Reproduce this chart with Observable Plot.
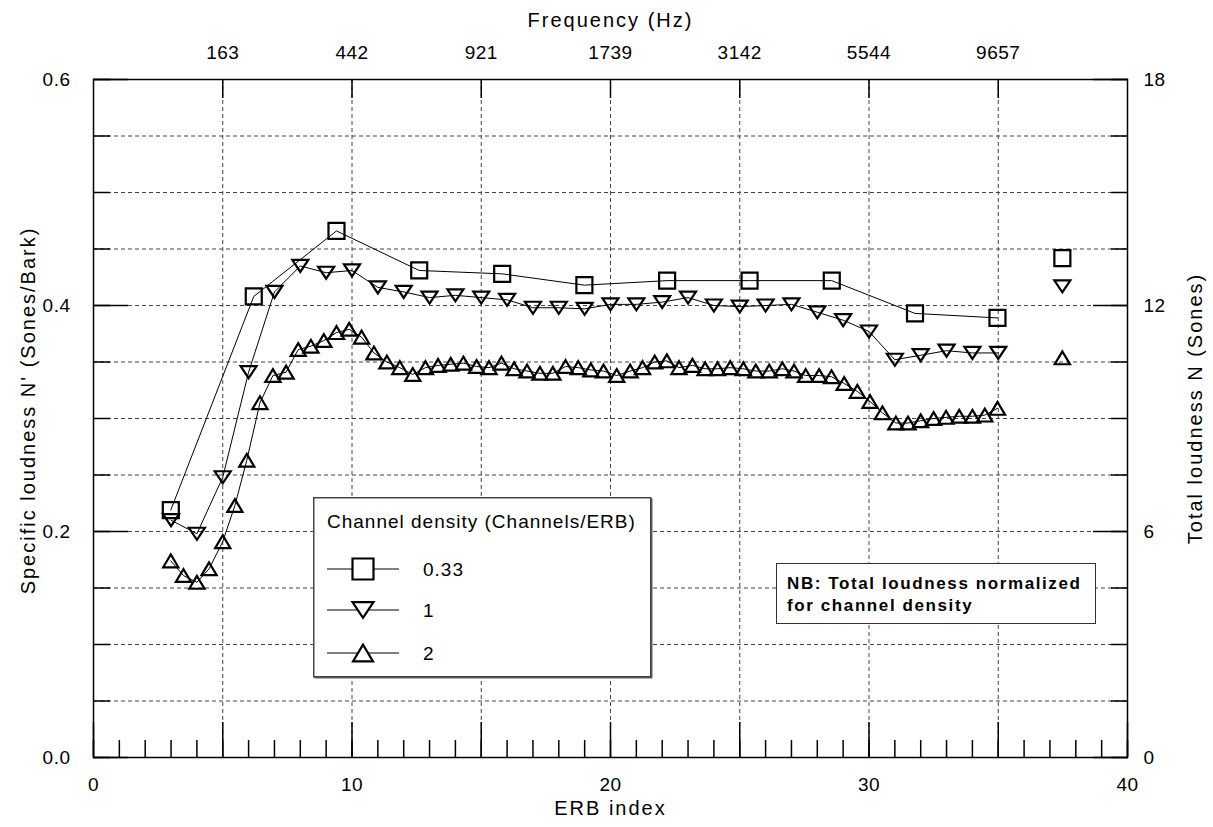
<!DOCTYPE html>
<html>
<head>
<meta charset="utf-8">
<script src="https://cdn.jsdelivr.net/npm/d3@7"></script>
<script src="https://cdn.jsdelivr.net/npm/@observablehq/plot@0.6"></script>
<style>
  body { margin: 0; background: #fff; }
  #wrap { position: relative; width: 1213px; height: 827px; font-family: "Liberation Sans", Arial, Helvetica, sans-serif; }
  #wrap svg text { font-family: "Liberation Sans", Arial, Helvetica, sans-serif; }
  #nb { position: absolute; left: 776px; top: 563px; width: 320px; height: 61px; box-sizing: border-box;
        border: 1.5px solid #333; background: #fff; font-weight: bold; font-size: 17px; letter-spacing: 1.6px;
        line-height: 22px; padding: 9px 0 0 10px; color: #000; }
</style>
</head>
<body>
<div id="wrap"></div>
<script>
// ---------------- data ----------------
const densities = ["0.33", "1", "2"];

// 0.33 channels/ERB (squares)
const erb033 = [2.99, 6.20, 9.40, 12.60, 15.81, 18.99, 22.19, 25.38, 28.56, 31.78, 34.97];
const val033 = [0.219, 0.408, 0.466, 0.431, 0.428, 0.418, 0.422, 0.422, 0.422, 0.393, 0.389];

// 1 channel/ERB (down triangles)
const erb1 = [3, 4, 5, 6, 7, 8, 9, 10, 11, 12, 13, 14, 15, 16, 17, 18, 19, 20, 21, 22, 23, 24, 25, 26, 27, 28, 29, 30, 31, 32, 33, 34, 35];
const val1 = [0.210, 0.198, 0.248, 0.341, 0.412, 0.435, 0.429, 0.431, 0.416, 0.412, 0.407, 0.409, 0.407, 0.405, 0.398, 0.398, 0.397,
              0.401, 0.401, 0.403, 0.407, 0.400, 0.399, 0.400, 0.401, 0.394, 0.387, 0.377, 0.352, 0.356, 0.360, 0.358, 0.358];

// 2 channels/ERB (up triangles)
const erb2 = [2.99, 3.48, 4.00, 4.47, 5.00, 5.47, 5.93, 6.44, 6.94, 7.45,
              7.92, 8.41, 8.91, 9.40, 9.89, 10.37, 10.85, 11.35, 11.85, 12.35,
              12.84, 13.33, 13.82, 14.31, 14.82, 15.30, 15.78, 16.27, 16.77, 17.27,
              17.77, 18.26, 18.75, 19.24, 19.73, 20.24, 20.76, 21.24, 21.71, 22.18,
              22.65, 23.17, 23.66, 24.14, 24.63, 25.14, 25.62, 26.14, 26.65, 27.10,
              27.55, 28.07, 28.55, 29.04, 29.55, 30.04, 30.52, 31.04, 31.51, 32.00,
              32.50, 32.98, 33.49, 34.00, 34.48, 34.97];
const val2 = [0.174, 0.161, 0.155, 0.167, 0.191, 0.223, 0.263, 0.314, 0.338, 0.341,
              0.361, 0.364, 0.369, 0.376, 0.379, 0.372, 0.358, 0.350, 0.345, 0.339,
              0.345, 0.347, 0.348, 0.349, 0.346, 0.345, 0.349, 0.344, 0.342, 0.340,
              0.340, 0.346, 0.345, 0.343, 0.342, 0.338, 0.342, 0.345, 0.350, 0.351,
              0.345, 0.347, 0.344, 0.344, 0.345, 0.344, 0.342, 0.342, 0.344, 0.342,
              0.338, 0.338, 0.337, 0.331, 0.324, 0.315, 0.305, 0.296, 0.296, 0.298,
              0.300, 0.301, 0.302, 0.302, 0.303, 0.309];

// Total loudness (Sones, right axis), plotted at the right of the data
const totalErb = [37.48, 37.48, 37.48];
const totalLoudness = [13.26, 12.51, 10.61];

// axis ticks / labels
const erbTicks = [0, 10, 20, 30, 40];
const freqTicks = [5, 10, 15, 20, 25, 30, 35];
const freqLabels = ["163", "442", "921", "1739", "3142", "5544", "9657"];
const specTicks = [0, 0.2, 0.4, 0.6];
const specLabels = ["0.0", "0.2", "0.4", "0.6"];
const totalLabels = ["0", "6", "12", "18"];
const sonesPerUnit = 18 / 0.6; // right axis maps 0.6 -> 18 Sones

const titleTop = "Frequency (Hz)";
const titleBottom = "ERB index";
const titleLeft = "Specific loudness N' (Sones/Bark)";
const titleRight = "Total loudness N (Sones)";

// ---------------- symbols ----------------
function makeSymbol(fn) { return { draw(ctx, size) { fn(ctx, Math.sqrt(size / Math.PI)); } }; }
const squareSym = makeSymbol((c, r) => { c.moveTo(-r, -r); c.lineTo(r, -r); c.lineTo(r, r); c.lineTo(-r, r); c.closePath(); });
const downSym = makeSymbol((c, r) => { const w = r * 1.0, h = r * 0.75; c.moveTo(-w, -h); c.lineTo(w, -h); c.lineTo(0, h); c.closePath(); });
const upSym = makeSymbol((c, r) => { const w = r * 0.95, h = r * 0.8; c.moveTo(-w, h); c.lineTo(w, h); c.lineTo(0, -h); c.closePath(); });
const symbols = { "0.33": squareSym, "1": downSym, "2": upSym };

const seriesRows = [
  ...erb033.map((x, i) => ({ density: "0.33", erb: x, n: val033[i] })),
  ...erb1.map((x, i) => ({ density: "1", erb: x, n: val1[i] })),
  ...erb2.map((x, i) => ({ density: "2", erb: x, n: val2[i] }))
];
const totalRows = densities.map((d, i) => ({ density: d, erb: totalErb[i], n: totalLoudness[i] / sonesPerUnit }));

const minorY = d3.ticks(0, 0.6, 12);
const gridYVals = minorY.filter(v => v > 0.001 && v < 0.599);
const minorX = d3.range(0, 41);
const fiveX = d3.range(0, 41, 5);

const gridStyle = { stroke: "#444", strokeOpacity: 1, strokeWidth: 1, strokeDasharray: "4,3" };

const marks = [
  Plot.gridX(freqTicks, gridStyle),
  Plot.gridY(gridYVals, gridStyle),
  Plot.line(seriesRows, { x: "erb", y: "n", z: "density", stroke: "#000", strokeWidth: 1 }),
  ...densities.map(d => Plot.dot([...seriesRows, ...totalRows].filter(r => r.density === d),
      { x: "erb", y: "n", symbol: () => symbols[d], r: 8, stroke: "#000", strokeWidth: 2.2, fill: "none" })),
  // frame
  Plot.frame({ stroke: "#000", strokeWidth: 1.5 }),
  // bottom ticks (inward)
  Plot.axisX(minorX, { anchor: "bottom", tickSize: -17, tickFormat: () => "", label: null, strokeWidth: 1.5 }),
  Plot.axisX(fiveX, { anchor: "bottom", tickSize: -35, tickFormat: () => "", label: null, strokeWidth: 1.5 }),
  Plot.axisX(erbTicks, { anchor: "bottom", tickSize: 0, tickPadding: 20, tickFormat: d => String(d), label: null, fontSize: 19 }),
  // top axis
  Plot.axisX(freqTicks, { anchor: "top", tickSize: -18, tickFormat: () => "", label: null, strokeWidth: 1.5 }),
  Plot.axisX(freqTicks, { anchor: "top", tickSize: 0, tickPadding: 21, tickFormat: d => freqLabels[freqTicks.indexOf(d)], label: null, fontSize: 19 }),
  // left axis
  Plot.axisY(minorY, { anchor: "left", tickSize: -17, tickFormat: () => "", label: null, strokeWidth: 1.5 }),
  Plot.axisY(specTicks, { anchor: "left", tickSize: -35, tickFormat: () => "", label: null, strokeWidth: 1.5 }),
  Plot.axisY(specTicks, { anchor: "left", tickSize: 0, tickPadding: 23, tickFormat: d => specLabels[specTicks.indexOf(d)], label: null, fontSize: 19 }),
  // right axis
  Plot.axisY(minorY, { anchor: "right", tickSize: -17, tickFormat: () => "", label: null, strokeWidth: 1.5 }),
  Plot.axisY(specTicks, { anchor: "right", tickSize: -35, tickFormat: () => "", label: null, strokeWidth: 1.5 }),
  Plot.axisY(specTicks, { anchor: "right", tickSize: 0, tickPadding: 16, tickFormat: d => totalLabels[specTicks.indexOf(d)], label: null, fontSize: 19 }),
  // axis titles
  Plot.text([titleTop], { text: d => d, frameAnchor: "top", lineAnchor: "middle", textAnchor: "middle", dy: -59, fontSize: 20 }),
  Plot.text([titleBottom], { text: d => d, frameAnchor: "bottom", lineAnchor: "middle", textAnchor: "middle", dy: 51, fontSize: 20 }),
  Plot.text([titleLeft], { text: d => d, frameAnchor: "left", lineAnchor: "middle", textAnchor: "middle", dx: -65, dy: -8, rotate: -90, fontSize: 20 }),
  Plot.text([titleRight], { text: d => d, frameAnchor: "right", lineAnchor: "middle", textAnchor: "middle", dx: 68, dy: -10, rotate: -90, fontSize: 20 })
];

const chart = Plot.plot({
  width: 1213,
  height: 827,
  marginTop: 79,
  marginBottom: 70,
  marginLeft: 93,
  marginRight: 86,
  x: { domain: [0, 40] },
  y: { domain: [0, 0.6] },
  style: { background: "#fff", color: "#000", fontFamily: "Liberation Sans, Arial, Helvetica, sans-serif", fontSize: "19px", letterSpacing: "0.5px" },
  marks
});
const wrap = document.getElementById("wrap");
wrap.appendChild(chart);
const titles = [titleTop, titleBottom, titleLeft, titleRight];
d3.select(chart).selectAll("text").filter(function () { return titles.includes(this.textContent); })
  .style("letter-spacing", "2px");

// ---------------- legend (overlay) ----------------
const L = { left: 313, top: 497, width: 338, height: 180 };
const legend = d3.select(wrap).append("svg")
  .attr("width", L.width + 4).attr("height", L.height + 4)
  .style("position", "absolute").style("left", L.left + "px").style("top", L.top + "px")
  .style("font-family", "Liberation Sans, Arial, Helvetica, sans-serif");
legend.append("rect").attr("x", 1.5).attr("y", 1.5).attr("width", L.width).attr("height", L.height).attr("fill", "#666");
legend.append("rect").attr("x", 0.75).attr("y", 0.75).attr("width", L.width - 1).attr("height", L.height - 1)
  .attr("fill", "#fff").attr("stroke", "#444").attr("stroke-width", 1.5);
legend.append("text").attr("x", 14).attr("y", 31).attr("font-size", 19).style("letter-spacing", "1px")
  .text("Channel density (Channels/ERB)");
const rowY = [72, 113, 156];
const legendSize = 10.5;
densities.forEach((d, i) => {
  const g = legend.append("g").attr("transform", `translate(0,${rowY[i]})`);
  g.append("line").attr("x1", 14).attr("x2", 86).attr("stroke", "#000").attr("stroke-width", 1);
  g.append("path").attr("transform", "translate(50,0)")
    .attr("d", d3.symbol(symbols[d], legendSize * legendSize * Math.PI)())
    .attr("fill", "#fff").attr("stroke", "#000").attr("stroke-width", 2.2);
  g.append("text").attr("x", 110).attr("dy", "0.35em").attr("font-size", 19).style("letter-spacing", "1px").text(d);
});

// ---------------- note box ----------------
const nb = document.createElement("div");
nb.id = "nb";
nb.innerHTML = "NB: Total loudness normalized<br>for channel density";
wrap.appendChild(nb);
</script>
</body>
</html>
